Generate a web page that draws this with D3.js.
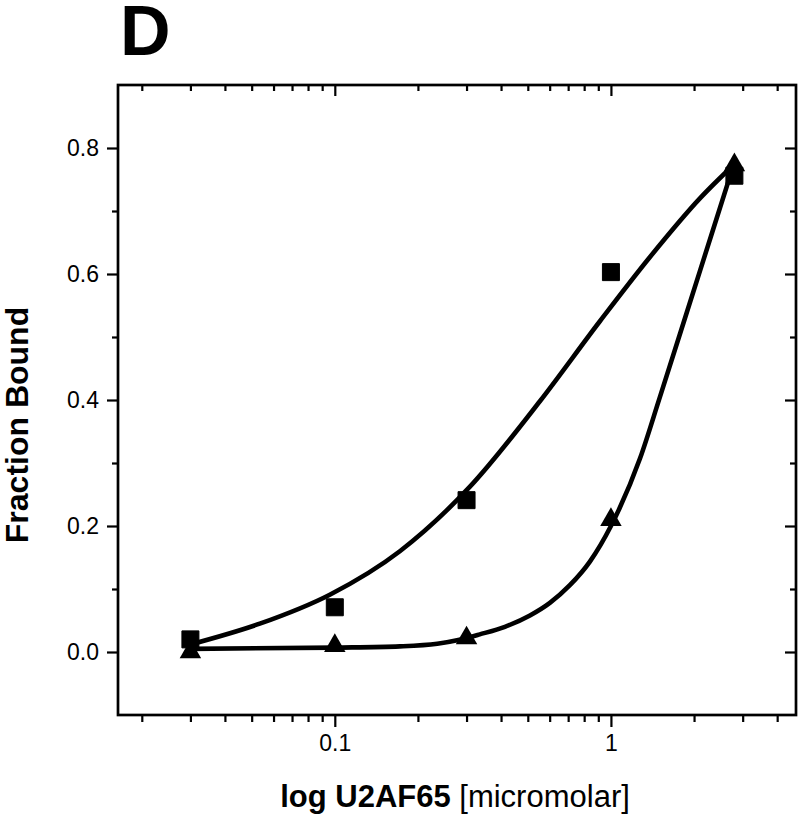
<!DOCTYPE html>
<html>
<head>
<meta charset="utf-8">
<script src="https://cdn.jsdelivr.net/npm/d3@7/dist/d3.min.js"></script>
<style>
  html, body { margin: 0; padding: 0; background: #fff; }
  svg { display: block; }
  text { font-family: "Liberation Sans", Arial, Helvetica, sans-serif; fill: #000; }
</style>
</head>
<body>
<svg id="chart" width="800" height="815"></svg>
<script>
// ---- data ----
const panelLabel = "D";
const concentrations = [0.03, 0.1, 0.3, 1, 2.8];
const squareValues = [0.02, 0.071, 0.241, 0.603, 0.756];
const triangleValues = [0.0, 0.01, 0.022, 0.21, 0.773];

// fitted curves
const squareCurveX = [0.03, 0.0535, 0.0959, 0.172, 0.308, 0.553, 0.912, 1.385, 2.10, 2.81];
const squareCurveY = [0.012, 0.045, 0.091, 0.16, 0.262, 0.398, 0.525, 0.627, 0.72, 0.775];
const triangleCurveX = [0.03, 0.1, 0.172, 0.235, 0.28, 0.335, 0.413, 0.509, 0.601, 0.71, 0.839, 1.0, 1.274, 1.505, 1.886, 2.303, 2.79];
const triangleCurveY = [0.005, 0.007, 0.009, 0.013, 0.019, 0.028, 0.040, 0.058, 0.078, 0.106, 0.1435, 0.20, 0.307, 0.405, 0.54, 0.66, 0.775];

const xDomain = [0.0164, 4.68];
const yDomain = [-0.1, 0.9];
const xMajorTicks = [0.1, 1];
const xMinorTicks = [0.02, 0.03, 0.04, 0.05, 0.06, 0.07, 0.08, 0.09,
                     0.2, 0.3, 0.4, 0.5, 0.6, 0.7, 0.8, 0.9, 2, 3, 4];
const yMajorTicks = [0.0, 0.2, 0.4, 0.6, 0.8];
const yMinorTicks = [0.1, 0.3, 0.5, 0.7];
const xTitleBold = "log U2AF65";
const xTitleNormal = " [micromolar]";
const yTitle = "Fraction Bound";

// ---- layout ----
const L = 118, R = 796, T = 85, B = 715;
const svg = d3.select("#chart");
const x = d3.scaleLog().domain(xDomain).range([L, R]);
const y = d3.scaleLinear().domain(yDomain).range([B, T]);

function styleAxis(g) {
  g.attr("font-size", null).attr("font-family", null);
  g.selectAll("path.domain").remove();
  g.selectAll(".tick line").attr("stroke", "#000").attr("stroke-width", 2.2);
  g.selectAll(".tick text").style("font-size", "23px").attr("fill", "#000");
}

// bottom axis
svg.append("g").attr("transform", `translate(0,${B})`)
  .call(d3.axisBottom(x).tickValues(xMajorTicks).tickSize(12).tickPadding(8)
    .tickFormat(d => d === 1 ? "1" : d3.format(".1f")(d)))
  .call(styleAxis);
svg.append("g").attr("transform", `translate(0,${B})`)
  .call(d3.axisBottom(x).tickValues(xMinorTicks).tickSize(7).tickFormat(""))
  .call(styleAxis);
// top axis (inward)
svg.append("g").attr("transform", `translate(0,${T})`)
  .call(d3.axisTop(x).tickValues(xMajorTicks).tickSize(-11).tickFormat(""))
  .call(styleAxis);
svg.append("g").attr("transform", `translate(0,${T})`)
  .call(d3.axisTop(x).tickValues(xMinorTicks).tickSize(-6).tickFormat(""))
  .call(styleAxis);
// left axis
svg.append("g").attr("transform", `translate(${L},0)`)
  .call(d3.axisLeft(y).tickValues(yMajorTicks).tickSize(11).tickPadding(8)
    .tickFormat(d3.format(".1f")))
  .call(styleAxis);
svg.append("g").attr("transform", `translate(${L},0)`)
  .call(d3.axisLeft(y).tickValues(yMinorTicks).tickSize(6).tickFormat(""))
  .call(styleAxis);
// right axis (inward)
svg.append("g").attr("transform", `translate(${R},0)`)
  .call(d3.axisRight(y).tickValues(yMajorTicks).tickSize(-11).tickFormat(""))
  .call(styleAxis);
svg.append("g").attr("transform", `translate(${R},0)`)
  .call(d3.axisRight(y).tickValues(yMinorTicks).tickSize(-6).tickFormat(""))
  .call(styleAxis);

// frame
svg.append("rect").attr("x", L).attr("y", T).attr("width", R - L).attr("height", B - T)
  .attr("fill", "none").attr("stroke", "#000").attr("stroke-width", 2.7);

// curves
const line = d3.line().x(d => x(d[0])).y(d => y(d[1])).curve(d3.curveMonotoneX);
const sqCurve = squareCurveX.map((v, i) => [v, squareCurveY[i]]);
const trCurve = triangleCurveX.map((v, i) => [v, triangleCurveY[i]]);
svg.append("path").datum(sqCurve).attr("d", line)
  .attr("fill", "none").attr("stroke", "#000").attr("stroke-width", 4.6).attr("stroke-linecap", "round");
svg.append("path").datum(trCurve).attr("d", line)
  .attr("fill", "none").attr("stroke", "#000").attr("stroke-width", 4.6).attr("stroke-linecap", "round");

// markers
const sqSym = d3.symbol().type(d3.symbolSquare).size(289);
const trSym = d3.symbol().type(d3.symbolTriangle).size(200);
svg.append("g").selectAll("path").data(concentrations.map((c, i) => [c, triangleValues[i]]))
  .join("path").attr("d", trSym)
  .attr("transform", d => `translate(${x(d[0])},${y(d[1])})`).attr("fill", "#000");
svg.append("g").selectAll("path").data(concentrations.map((c, i) => [c, squareValues[i]]))
  .join("path").attr("d", sqSym)
  .attr("transform", d => `translate(${x(d[0])},${y(d[1])})`).attr("fill", "#000")
  .attr("stroke", "#000").attr("stroke-width", 1).attr("stroke-linejoin", "round");

// titles
const xt = svg.append("text").attr("x", (L + R) / 2 - 2).attr("y", 807)
  .attr("text-anchor", "middle").style("font-size", "31px");
xt.append("tspan").attr("font-weight", "bold").text(xTitleBold);
xt.append("tspan").text(xTitleNormal);

svg.append("text").attr("transform", `translate(28,425) rotate(-90)`)
  .attr("text-anchor", "middle").attr("font-weight", "bold").style("font-size", "32px")
  .text(yTitle);

svg.append("text").attr("x", 120).attr("y", 55).attr("font-weight", "bold")
  .style("font-size", "70px").text(panelLabel);
</script>
</body>
</html>
